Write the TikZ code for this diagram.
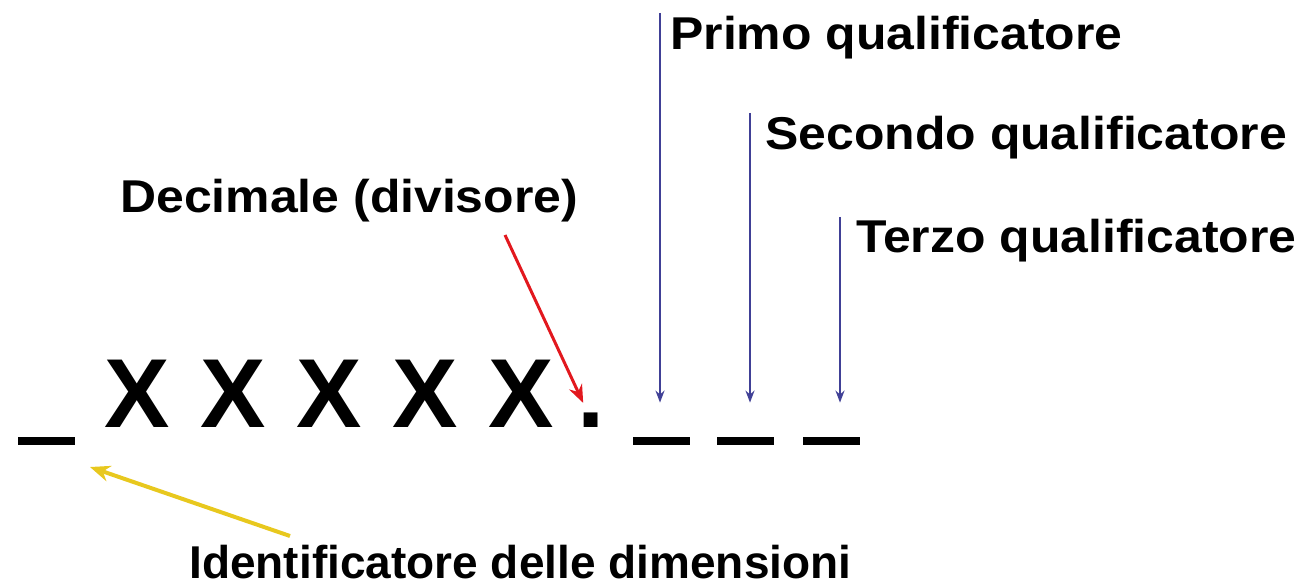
\documentclass[tikz,border=0pt]{standalone}
\usepackage{fontspec}
\setmainfont{Liberation Sans}
\newfontfamily\labfont[FakeStretch=1.085]{Liberation Sans}
\usetikzlibrary{arrows.meta,positioning}
\definecolor{qblue}{RGB}{64,64,150}
\definecolor{dred}{RGB}{226,24,30}
\definecolor{iyellow}{RGB}{232,200,30}

\begin{document}
\begin{tikzpicture}[x=0.5pt, y=-0.5pt,
  xchar/.style={inner sep=0pt, font=\bfseries\fontsize{49}{55}\selectfont},
  slot/.style={fill=black, inner sep=0pt, minimum width=28.5pt, minimum height=4pt},
  lab/.style={inner sep=0pt, anchor=base west, font=\labfont\bfseries\fontsize{23}{27}\selectfont},
  idlab/.style={inner sep=0pt, anchor=base west, font=\bfseries\fontsize{23}{27}\selectfont},
  qarr/.style={-{Stealth[length=6pt, width=4.5pt]}, qblue, line width=1pt, shorten >=17pt},
  darr/.style={-{Stealth[length=9pt, width=7pt]}, dred, line width=1.5pt, shorten >=5pt},
  iarr/.style={-{Stealth[length=10pt, width=8pt]}, iyellow, line width=2pt}
]
\useasboundingbox (0,0) rectangle (1307,588);

\node[slot] (s0) at (46.5,441) {};
\node[xchar, anchor=base] (x1) at (137,427) {X};
\node[xchar, right=15pt of x1] (x2) {X};
\node[xchar, right=15pt of x2] (x3) {X};
\node[xchar, right=15pt of x3] (x4) {X};
\node[xchar, right=15pt of x4] (x5) {X};
\node[xchar, anchor=base] (dot) at (591,427) {.};
\node[slot] (s1) at (661.5,441) {};
\node[slot] (s2) at (745,441) {};
\node[slot] (s3) at (831,441) {};

\node[lab] (primo) at (670,50) {Primo qualificatore};
\node[lab] (secondo) at (765,150) {Secondo qualificatore};
\node[lab] (terzo) at (856,253) {Terzo qualificatore};
\node[lab] (decimale) at (120,213) {Decimale (divisore)};
\node[idlab] (ident) at (189,578) {Identificatore delle dimensioni};

\coordinate (p1) at (660,13);
\coordinate (p2) at (750,113);
\coordinate (p3) at (840,217);
\draw[qarr] (p1) -- (p1 |- s1.north);
\draw[qarr] (p2) -- (p2 |- s2.north);
\draw[qarr] (p3) -- (p3 |- s3.north);

\coordinate (dtail) at (505,235);
\draw[darr] (dtail) -- (dot);

\coordinate (itail) at (290,536);
\coordinate (itip) at (90,467);
\draw[iarr] (itail) -- (itip);

\end{tikzpicture}
\end{document}
